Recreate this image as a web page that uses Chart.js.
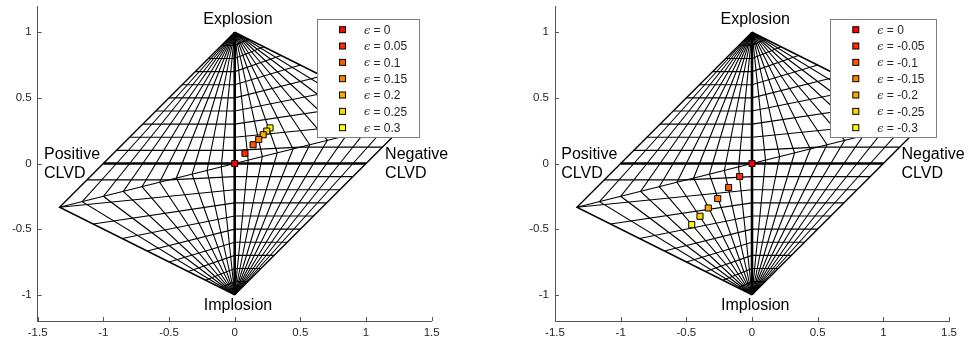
<!DOCTYPE html>
<html>
<head>
<meta charset="utf-8">
<script src="https://cdn.jsdelivr.net/npm/chart.js@4.4.1/dist/chart.umd.min.js"></script>
<style>
  html, body { margin: 0; padding: 0; background: #fff; }
  .panel { position: absolute; top: 0; width: 484px; height: 345px; }
  #left { left: 0; }
  #right { left: 484px; }
</style>
</head>
<body>
<div class="panel" id="left"><canvas id="chartLeft"></canvas></div>
<div class="panel" id="right"><canvas id="chartRight"></canvas></div>
<script>
// Source-type points (Hudson u, v)
const epsLeft = [0, 0.05, 0.1, 0.15, 0.2, 0.25, 0.3];
const uLeft = [0, 0.078, 0.14, 0.183, 0.217, 0.244, 0.269];
const vLeft = [0, 0.078, 0.143, 0.183, 0.219, 0.247, 0.271];

const epsRight = [0, -0.05, -0.1, -0.15, -0.2, -0.25, -0.3];
const uRight = [0, -0.094, -0.178, -0.261, -0.333, -0.396, -0.459];
const vRight = [0, -0.099, -0.183, -0.267, -0.339, -0.402, -0.466];

const markerColors = ['#ff0000', '#ff2a00', '#ff5500', '#ff8000', '#ffaa00', '#ffd500', '#ffff00'];

// Hudson grid: lines of constant k and constant T
const kLevels = [-0.9, -0.8, -0.7, -0.6, -0.5, -0.4, -0.3, -0.2, -0.1,
  0.1, 0.2, 0.3, 0.4, 0.5, 0.6, 0.7, 0.8, 0.9];
const tLevels = [-0.9, -0.8, -0.7, -0.6, -0.5, -0.4, -0.3, -0.2, -0.1,
  0.1, 0.2, 0.3, 0.4, 0.5, 0.6, 0.7, 0.8, 0.9];

const xTicks = [-1.5, -1, -0.5, 0, 0.5, 1, 1.5];
const yTicks = [-1, -0.5, 0, 0.5, 1];

const labelExplosion = 'Explosion';
const labelImplosion = 'Implosion';
const labelPositive = ['Positive', 'CLVD'];
const labelNegative = ['Negative', 'CLVD'];

// Hudson et al. (1989) skewed-diamond projection of (tau, k)
function hudsonUV(tau, k) {
  if (tau > 0 && k > 0) {
    if (tau < 4 * k) return [tau / (1 - tau / 2), k / (1 - tau / 2)];
    return [tau / (1 - 2 * k), k / (1 - 2 * k)];
  }
  if (tau < 0 && k < 0) {
    const [u, v] = hudsonUV(-tau, -k);
    return [-u, -v];
  }
  return [tau, k];
}

function toPoints(pairs) {
  return pairs.map(([tau, k]) => {
    const [u, v] = hudsonUV(tau, k);
    return { x: u, y: v };
  });
}

function kLine(k) {
  const a = 1 - Math.abs(k);
  const taus = [-a, 0, a];
  if (4 * Math.abs(k) < a) taus.push(Math.sign(k) * 4 * Math.abs(k));
  taus.sort((p, q) => p - q);
  return toPoints(taus.map((t) => [t, k]));
}

function tLine(T) {
  const ks = [-1, 0, 1, Math.sign(T) * Math.abs(T) / (4 + Math.abs(T))];
  ks.sort((p, q) => p - q);
  return toPoints(ks.map((k) => [T * (1 - Math.abs(k)), k]));
}

function lineDataset(data, width, order) {
  return {
    type: 'scatter',
    data,
    showLine: true,
    borderColor: '#000',
    borderWidth: width,
    pointRadius: 0,
    pointHoverRadius: 0,
    tension: 0,
    fill: false,
    order,
  };
}

function buildDatasets(eps, us, vs) {
  const sets = [];
  eps.forEach((e, i) => {
    sets.push({
      type: 'scatter',
      label: e,
      data: [{ x: us[i], y: vs[i] }],
      pointStyle: 'rect',
      pointRadius: 4.3,
      backgroundColor: markerColors[i],
      borderColor: '#000',
      borderWidth: 1,
      order: 0,
      isMarker: true,
    });
  });
  // thick axes T = 0 and k = 0
  sets.push(lineDataset(tLine(0), 2.6, 1));
  sets.push(lineDataset(kLine(0), 2.6, 1));
  // outline (T = +-1) and the tau = 4k boundary lines
  sets.push(lineDataset(tLine(1), 1.4, 2));
  sets.push(lineDataset(tLine(-1), 1.4, 2));
  sets.push(lineDataset(toPoints([[0, 0], [0.8, 0.2]]), 1.1, 3));
  sets.push(lineDataset(toPoints([[0, 0], [-0.8, -0.2]]), 1.1, 3));
  kLevels.forEach((k) => sets.push(lineDataset(kLine(k), 1.1, 3)));
  tLevels.forEach((T) => sets.push(lineDataset(tLine(T), 1.1, 3)));
  return sets;
}

const decorPlugin = {
  id: 'decor',
  afterDraw(chart, args, opts) {
    const { ctx, chartArea, scales: { x, y } } = chart;
    ctx.save();
    // inward ticks
    ctx.strokeStyle = '#555';
    ctx.lineWidth = 1;
    xTicks.forEach((t) => {
      const px = Math.round(x.getPixelForValue(t)) + 0.5;
      ctx.beginPath();
      ctx.moveTo(px, chartArea.bottom);
      ctx.lineTo(px, chartArea.bottom - 4);
      ctx.stroke();
    });
    yTicks.forEach((t) => {
      const py = Math.round(y.getPixelForValue(t)) + 0.5;
      ctx.beginPath();
      ctx.moveTo(chartArea.left, py);
      ctx.lineTo(chartArea.left + 4, py);
      ctx.stroke();
    });

    // corner labels
    ctx.fillStyle = '#000';
    ctx.font = '16px "Liberation Sans", Arial, sans-serif';
    ctx.textBaseline = 'middle';
    ctx.textAlign = 'center';
    ctx.fillText(labelExplosion, x.getPixelForValue(0.025), y.getPixelForValue(1.094));
    ctx.fillText(labelImplosion, x.getPixelForValue(0.025), y.getPixelForValue(-1.081));
    ctx.textAlign = 'left';
    labelPositive.forEach((s, i) => {
      ctx.fillText(s, x.getPixelForValue(-1.452), y.getPixelForValue(i === 0 ? 0.07 : -0.078));
    });
    labelNegative.forEach((s, i) => {
      ctx.fillText(s, x.getPixelForValue(opts.negX), y.getPixelForValue(i === 0 ? 0.07 : -0.078));
    });

    // legend box
    const markers = chart.data.datasets.filter((d) => d.isMarker);
    const textFont = '12px "Liberation Sans", Arial, sans-serif';
    const epsFont = 'italic 11px "DejaVu Serif", serif';
    let maxW = 0;
    markers.forEach((d) => {
      ctx.font = epsFont;
      const w1 = ctx.measureText('\u03f5').width;
      ctx.font = textFont;
      const w2 = ctx.measureText(' = ' + d.label).width;
      maxW = Math.max(maxW, w1 + w2);
    });
    const boxW = 47 + maxW + 12;
    const rowH = 16.33;
    const boxH = 11 + rowH * (markers.length - 1) + 9.3;
    const boxR = chartArea.right - 12.5;
    const boxL = boxR - boxW;
    const boxT = chartArea.top + 12.7;
    ctx.fillStyle = '#fff';
    ctx.fillRect(boxL, boxT, boxW, boxH);
    ctx.strokeStyle = '#7f7f7f';
    ctx.lineWidth = 1;
    ctx.strokeRect(Math.round(boxL) + 0.5, Math.round(boxT) + 0.5, Math.round(boxW), Math.round(boxH));
    markers.forEach((d, i) => {
      const cy = boxT + 11 + rowH * i;
      const cx = boxL + 25.5;
      ctx.fillStyle = d.backgroundColor;
      ctx.fillRect(cx - 3, cy - 3, 6, 6);
      ctx.strokeStyle = '#000';
      ctx.strokeRect(cx - 3, cy - 3, 6, 6);
      ctx.fillStyle = '#262626';
      ctx.textAlign = 'left';
      ctx.font = epsFont;
      const tx = boxL + 47;
      ctx.fillText('\u03f5', tx, cy + 1);
      const w1 = ctx.measureText('\u03f5').width;
      ctx.font = textFont;
      ctx.fillText(' = ' + d.label, tx + w1, cy + 1);
    });
    ctx.restore();
  },
};

function makePanel(canvasId, eps, us, vs, layout) {
  const canvas = document.getElementById(canvasId);
  // eslint-disable-next-line no-undef
  return new Chart(canvas.getContext('2d'), {
    type: 'scatter',
    data: { datasets: buildDatasets(eps, us, vs) },
    plugins: [decorPlugin],
    options: {
      responsive: true,
      maintainAspectRatio: false,
      animation: false,
      devicePixelRatio: 1,
      layout: { padding: { top: 6, right: layout.right, left: 0, bottom: 0 } },
      plugins: {
        legend: { display: false },
        tooltip: { enabled: false },
        decor: { negX: layout.negX },
      },
      scales: {
        x: {
          type: 'linear',
          min: -1.5,
          max: 1.5,
          afterBuildTicks: (scale) => { scale.ticks = xTicks.map((v) => ({ value: v })); },
          afterFit: (scale) => {
            scale.height = 24;
            scale.paddingLeft = 0;
            scale.paddingRight = 0;
          },
          grid: { display: false, drawTicks: false },
          border: { display: true, color: '#555', width: 1 },
          ticks: {
            padding: 5,
            color: '#262626',
            font: { family: '"Liberation Sans", Arial, sans-serif', size: 11.5 },
            callback: (v) => String(v),
            maxRotation: 0,
          },
        },
        y: {
          type: 'linear',
          min: -1.2,
          max: 1.2,
          afterBuildTicks: (scale) => { scale.ticks = yTicks.map((v) => ({ value: v })); },
          afterFit: (scale) => {
            scale.width = layout.left;
            scale.paddingTop = 0;
            scale.paddingBottom = 0;
          },
          grid: { display: false, drawTicks: false },
          border: { display: true, color: '#555', width: 1 },
          ticks: {
            padding: 6,
            color: '#262626',
            font: { family: '"Liberation Sans", Arial, sans-serif', size: 11.5 },
            callback: (v) => String(v),
          },
        },
      },
    },
  });
}

makePanel('chartLeft', epsLeft, uLeft, vLeft, { left: 37.7, right: 52.3, negX: 1.145 });
makePanel('chartRight', epsRight, uRight, vRight, { left: 71, right: 19, negX: 1.138 });
</script>
</body>
</html>
